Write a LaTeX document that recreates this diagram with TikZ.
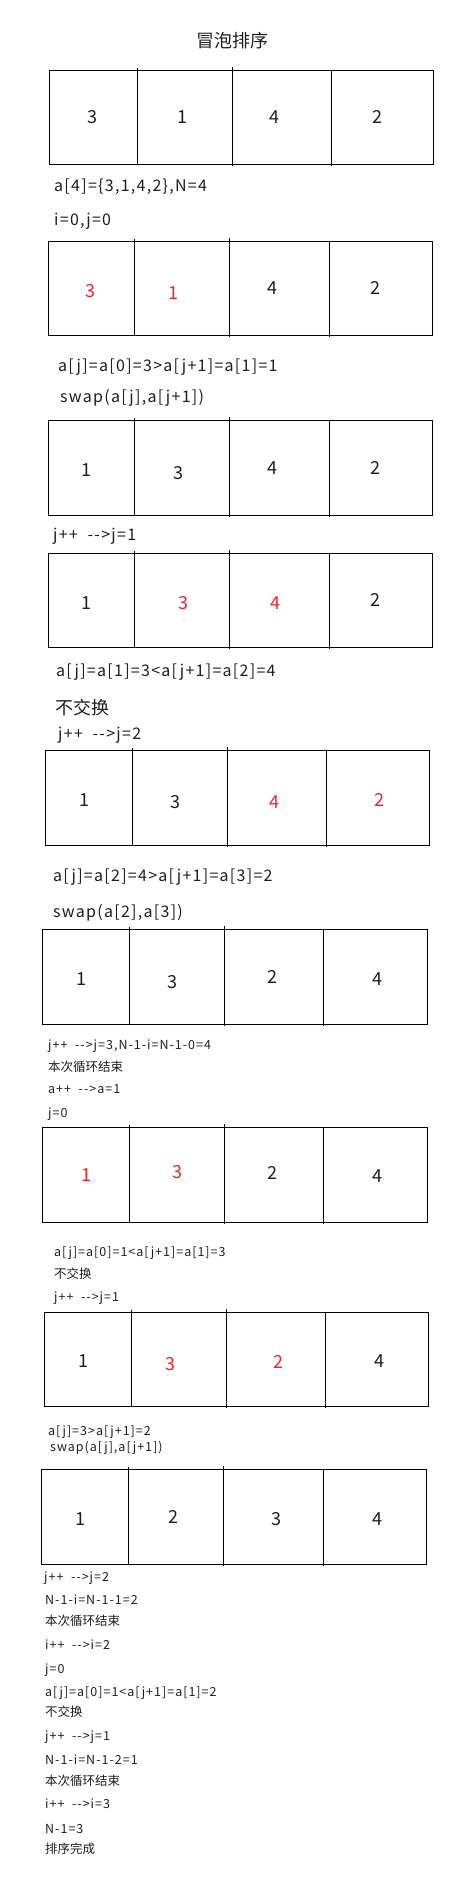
\documentclass[tikz,border=0pt]{standalone}
\usepackage{fontspec}
\usepackage{tikz}
\usepackage{xcolor}
\newfontfamily\cjk{Noto Sans CJK SC}
\newfontfamily\cjkwide{Noto Sans CJK SC}[LetterSpace=8]
\definecolor{swapred}{RGB}{235,35,45}
\definecolor{ink}{RGB}{30,30,30}
\tikzset{
    num/.style={inner sep=0pt, text=ink, font=\cjk\fontsize{18}{18}\selectfont},
    hot/.style={num, text=swapred},
    big/.style={anchor=base west, inner sep=0pt, text=ink, font=\cjkwide\fontsize{16}{16}\selectfont},
    small/.style={anchor=base west, inner sep=0pt, text=ink, font=\cjkwide\fontsize{12.5}{12.5}\selectfont},
    smallcn/.style={small, font=\cjk\fontsize{12.5}{12.5}\selectfont},
    boxline/.style={draw=black, line width=1pt}
}

\begin{document}
\begin{tikzpicture}[x=1pt, y=-1pt]
            \useasboundingbox (0,0) rectangle (472,1888);
            \node[anchor=base, inner sep=0pt, text=ink, font=\cjk\fontsize{18}{18}\selectfont] (title) at (232, 47) {冒泡排序};

            % array 1
            \draw[boxline] (49,70) rectangle (433,164);
            \draw[boxline] (137,68) -- (137,164);
            \draw[boxline] (232,67) -- (232,166);
            \draw[boxline] (331,70) -- (331,166);
            \node[num] (c11) at (92, 117) {3};
            \node[num] (c12) at (182, 117) {1};
            \node[num] (c13) at (274, 117) {4};
            \node[num] (c14) at (377, 117) {2};

            \node[big] (s1) at (54, 191) {a[4]=\{3,1,4,2\},N=4};
            \node[big] (s2) at (54, 225) {i=0,j=0};

            % array 2
            \draw[boxline] (48,241) rectangle (432,335);
            \draw[boxline] (134,239) -- (134,335);
            \draw[boxline] (229,238) -- (229,337);
            \draw[boxline] (329,241) -- (329,337);
            \node[hot] (c21) at (90, 291) {3};
            \node[hot] (c22) at (173, 293) {1};
            \node[num] (c23) at (272, 288) {4};
            \node[num] (c24) at (375, 288) {2};

            \node[big] (s3) at (58, 371) {a[j]=a[0]=3>a[j+1]=a[1]=1};
            \node[big] (s4) at (60, 402) {swap(a[j],a[j+1])};

            % array 3
            \draw[boxline] (48,420) rectangle (432,515);
            \draw[boxline] (134,418) -- (134,515);
            \draw[boxline] (229,417) -- (229,517);
            \draw[boxline] (329,420) -- (329,517);
            \node[num] (c31) at (86, 470) {1};
            \node[num] (c32) at (178, 473) {3};
            \node[num] (c33) at (272, 468) {4};
            \node[num] (c34) at (375, 468) {2};

            \node[big] (s5) at (53, 540) {j++\ \ -->j=1};

            % array 4
            \draw[boxline] (48,553) rectangle (432,647);
            \draw[boxline] (134,551) -- (134,647);
            \draw[boxline] (229,550) -- (229,649);
            \draw[boxline] (329,553) -- (329,649);
            \node[num] (c41) at (86, 603) {1};
            \node[hot] (c42) at (183, 603) {3};
            \node[hot] (c43) at (275, 603) {4};
            \node[num] (c44) at (375, 600) {2};

            \node[big] (s6) at (56, 676) {a[j]=a[1]=3<a[j+1]=a[2]=4};
            \node[big, font=\cjk\fontsize{18}{18}\selectfont] (s7) at (55, 714) {不交换};
            \node[big] (s8) at (58, 739) {j++\ \ -->j=2};

            % array 5
            \draw[boxline] (45,750) rectangle (429,845);
            \draw[boxline] (132,748) -- (132,845);
            \draw[boxline] (227,747) -- (227,847);
            \draw[boxline] (326,750) -- (326,847);
            \node[num] (c51) at (84, 800) {1};
            \node[num] (c52) at (175, 802) {3};
            \node[hot] (c53) at (274, 802) {4};
            \node[hot] (c54) at (379, 800) {2};

            \node[big] (s9) at (53, 881) {a[j]=a[2]=4>a[j+1]=a[3]=2};
            \node[big] (s10) at (53, 917) {swap(a[2],a[3])};

            % array 6
            \draw[boxline] (42,929) rectangle (427,1024);
            \draw[boxline] (129,927) -- (129,1024);
            \draw[boxline] (224,926) -- (224,1026);
            \draw[boxline] (323,929) -- (323,1026);
            \node[num] (c61) at (81, 979) {1};
            \node[num] (c62) at (172, 982) {3};
            \node[num] (c63) at (272, 977) {2};
            \node[num] (c64) at (377, 979) {4};

            \node[small] (s11) at (48, 1049.5) {j++\ \ -->j=3,N-1-i=N-1-0=4};
            \node[smallcn] (s12) at (48, 1071) {本次循环结束};
            \node[small] (s13) at (48, 1093.5) {a++\ \ -->a=1};
            \node[small] (s14) at (48, 1117) {j=0};

            % array 7
            \draw[boxline] (42,1127) rectangle (427,1222);
            \draw[boxline] (129,1125) -- (129,1222);
            \draw[boxline] (224,1124) -- (224,1224);
            \draw[boxline] (323,1127) -- (323,1224);
            \node[hot] (c71) at (86, 1175) {1};
            \node[hot] (c72) at (177, 1172) {3};
            \node[num] (c73) at (272, 1173) {2};
            \node[num] (c74) at (377, 1176) {4};

            \node[small] (s15) at (54, 1256.5) {a[j]=a[0]=1<a[j+1]=a[1]=3};
            \node[smallcn] (s16) at (54, 1278) {不交换};
            \node[small] (s17) at (54, 1301.5) {j++\ \ -->j=1};

            % array 8
            \draw[boxline] (44,1312) rectangle (428,1406);
            \draw[boxline] (131,1310) -- (131,1406);
            \draw[boxline] (226,1309) -- (226,1408);
            \draw[boxline] (325,1312) -- (325,1408);
            \node[num] (c81) at (83, 1361) {1};
            \node[hot] (c82) at (170, 1364) {3};
            \node[hot] (c83) at (278, 1362) {2};
            \node[num] (c84) at (379, 1361) {4};

            \node[small] (s18) at (48, 1435.5) {a[j]=3>a[j+1]=2};
            \node[small] (s19) at (50, 1451.5) {swap(a[j],a[j+1])};

            % array 9
            \draw[boxline] (41,1469) rectangle (426,1564);
            \draw[boxline] (128,1467) -- (128,1564);
            \draw[boxline] (223,1466) -- (223,1566);
            \draw[boxline] (323,1469) -- (323,1566);
            \node[num] (c91) at (80, 1519) {1};
            \node[num] (c92) at (173, 1517) {2};
            \node[num] (c93) at (276, 1519) {3};
            \node[num] (c94) at (377, 1519) {4};

            \node[small] (s20) at (44, 1581.5) {j++\ \ -->j=2};
            \node[small] (s21) at (45, 1604.5) {N-1-i=N-1-1=2};
            \node[smallcn] (s22) at (45, 1625) {本次循环结束};
            \node[small] (s23) at (45, 1649.5) {i++\ \ -->i=2};
            \node[small] (s24) at (45, 1673.5) {j=0};
            \node[small] (s25) at (45, 1696.5) {a[j]=a[0]=1<a[j+1]=a[1]=2};
            \node[smallcn] (s26) at (45, 1716) {不交换};
            \node[small] (s27) at (45, 1740.5) {j++\ \ -->j=1};
            \node[small] (s28) at (45, 1764.5) {N-1-i=N-1-2=1};
            \node[smallcn] (s29) at (45, 1785) {本次循环结束};
            \node[small] (s30) at (45, 1808.5) {i++\ \ -->i=3};
            \node[small] (s31) at (45, 1833.5) {N-1=3};
            \node[smallcn] (s32) at (45, 1853) {排序完成};
        \end{tikzpicture}
\end{document}
